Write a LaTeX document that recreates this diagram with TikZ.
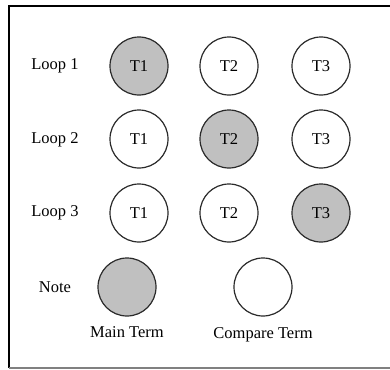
\documentclass[tikz,border=0pt]{standalone}
\usepackage{fontspec}
\setmainfont{Liberation Serif}
\definecolor{termgray}{HTML}{C0C0C0}
\definecolor{edge}{HTML}{2A2A2A}
\begin{document}
\begin{tikzpicture}[x=1pt,y=-1pt,
  term/.style={circle, draw=edge, line width=1.2pt, minimum size=58pt, inner sep=0pt, font=\fontsize{16.5}{19}\selectfont},
  mainterm/.style={term, fill=termgray},
  lbl/.style={font=\fontsize{16.5}{19}\selectfont, inner sep=0pt}]
\useasboundingbox (0,0) rectangle (390,369);
\begin{scope}
\clip (0,0) rectangle (390,369);
\draw[line width=2pt, black] (398,6) -- (8.5,6) -- (8.5,368);
\draw[line width=1.3pt, gray] (8.5,368) -- (398,368);
\end{scope}
% labels
\node[lbl] (l1) at (55,66) {Loop 1};
\node[lbl] (l2) at (55,140) {Loop 2};
\node[lbl] (l3) at (55,213) {Loop 3};
\node[lbl] (nt) at (55,287) {Note};
% row 1
\node[mainterm] (a1) at (139,66) {T1};
\node[term] (a2) at (229,66) {T2};
\node[term] (a3) at (321,66) {T3};
% row 2
\node[term] (b1) at (139,139) {T1};
\node[mainterm] (b2) at (229,139) {T2};
\node[term] (b3) at (321,139) {T3};
% row 3
\node[term] (c1) at (139,213) {T1};
\node[term] (c2) at (229,213) {T2};
\node[mainterm] (c3) at (321,213) {T3};
% note
\node[mainterm] (m) at (127,287) {};
\node[term] (c) at (263,287) {};
\node[lbl] (ml) at (127,332) {Main Term};
\node[lbl] (cl) at (263,335) {Compare Term};
\end{tikzpicture}
\end{document}
